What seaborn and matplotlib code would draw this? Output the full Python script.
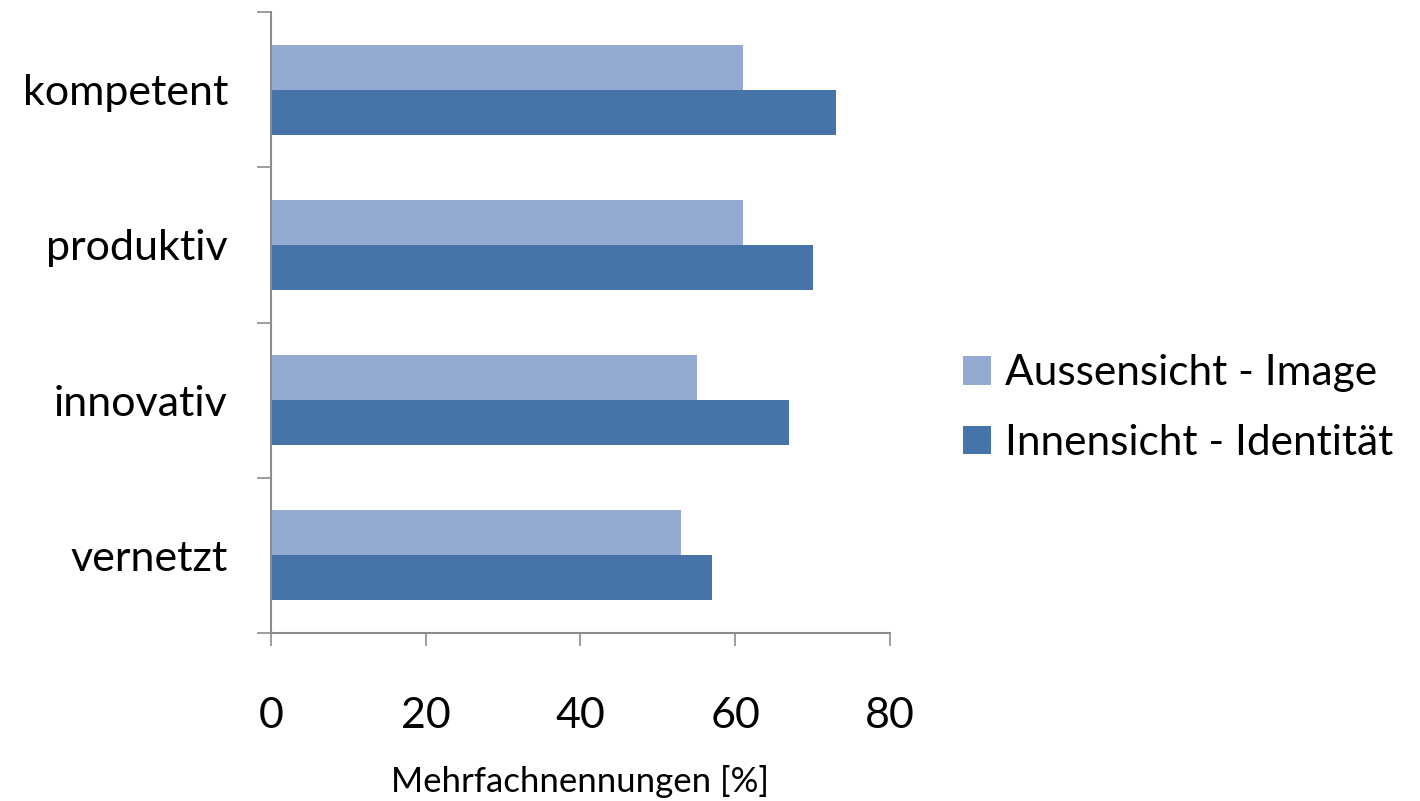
import pandas as pd
import numpy as np
import matplotlib.pyplot as plt
import seaborn as sns

categories = ['kompetent', 'produktiv', 'innovativ', 'vernetzt']
aussensicht = [61, 61, 55, 53]
innensicht = [73, 70, 67, 57]
series_names = ['Aussensicht - Image', 'Innensicht - Identität']
xticks = [0, 20, 40, 60, 80]

df = pd.DataFrame({
    'Eigenschaft': categories * 2,
    'Wert': aussensicht + innensicht,
    'Sicht': [series_names[0]] * 4 + [series_names[1]] * 4,
})

sns.set_theme(style='white')
plt.rcParams['font.family'] = ['Lato', 'DejaVu Sans']
plt.rcParams['text.color'] = 'black'
plt.rcParams['xtick.labelcolor'] = 'black'
plt.rcParams['ytick.labelcolor'] = 'black'
plt.rcParams['axes.labelcolor'] = 'black'

fig = plt.figure(figsize=(14.2, 8.01), dpi=100)
ax = fig.add_axes([0.1908, 0.2097, 0.6268 - 0.1908, 0.985 - 0.2097])

sns.barplot(data=df, y='Eigenschaft', x='Wert', hue='Sicht', orient='h',
            palette=['#95AAD2', '#4674A8'], width=0.58, ax=ax,
            saturation=1, errorbar=None, linewidth=0)

ax.set_xlim(0, 80)
ax.set_ylim(3.5, -0.5)
ax.set_xticks(xticks)
ax.set_xticklabels([str(t) for t in xticks], fontsize=31)
ax.tick_params(axis='x', direction='out', length=9, width=1.2, color='#8c8c8c', pad=37, bottom=True)

# category labels at centres, tick marks at the boundaries
ax.set_yticks(range(len(categories)))
ax.set_yticklabels(categories, fontsize=31)
ax.tick_params(axis='y', which='major', length=0, pad=31)
ax.set_yticks(np.arange(-0.5, len(categories), 1), minor=True)
ax.tick_params(axis='y', which='minor', direction='out', length=10, width=1.2,
               color='#8c8c8c', left=True)

ax.set_xlabel('Mehrfachnennungen [%]', fontsize=25, labelpad=22)
ax.set_ylabel('')

for side in ['top', 'right']:
    ax.spines[side].set_visible(False)
for side in ['left', 'bottom']:
    ax.spines[side].set_color('#8c8c8c')
    ax.spines[side].set_linewidth(1.5)

ax.legend(loc='center left', bbox_to_anchor=(1.118, 0.362), frameon=False,
          fontsize=30.5, handlelength=0.65, handleheight=0.65, handletextpad=0.33,
          labelspacing=0.75, borderaxespad=0, borderpad=0)

fig.savefig('out.png', dpi=100)
